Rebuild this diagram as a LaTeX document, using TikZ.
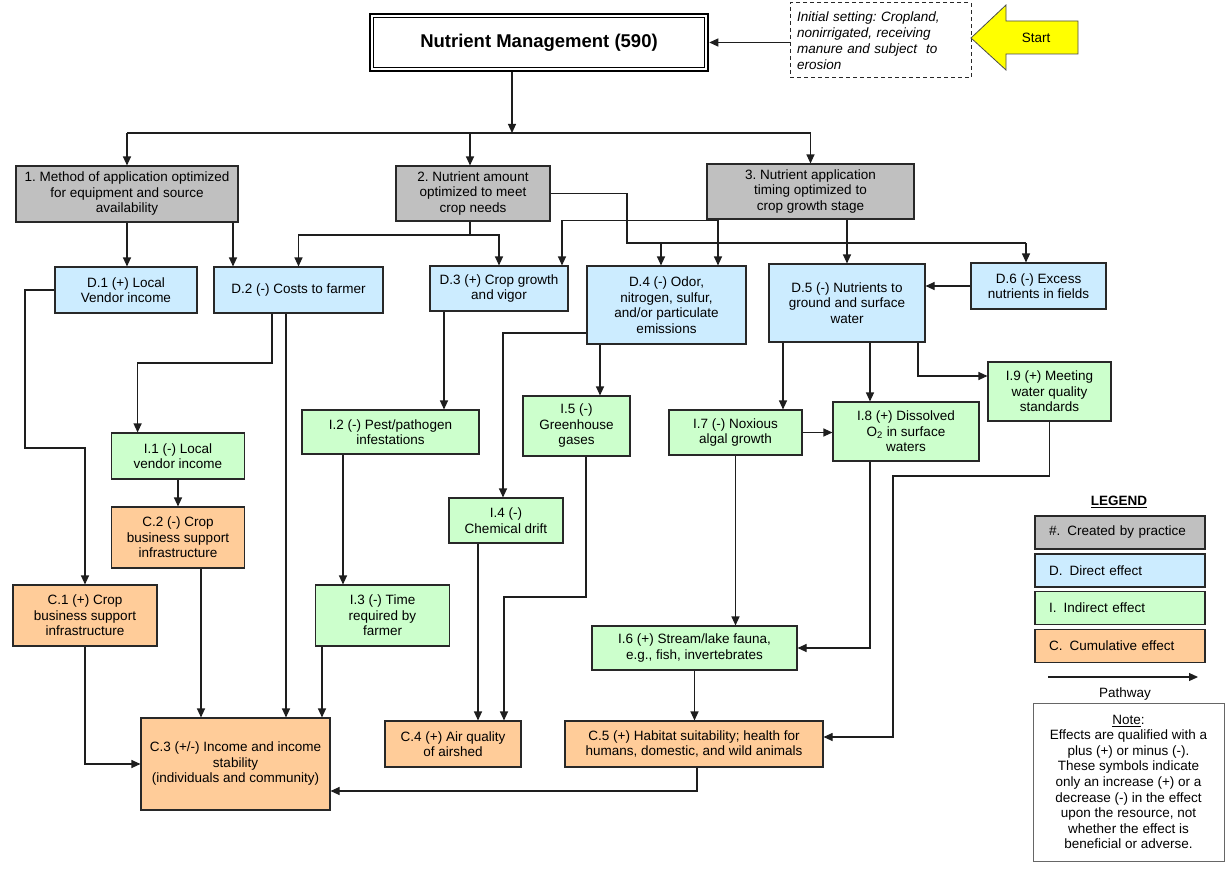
\documentclass[tikz,border=0pt]{standalone}
\usepackage{fontspec}
\setmainfont{Liberation Sans}
\usetikzlibrary{arrows.meta}
\definecolor{gfill}{RGB}{192,192,192}
\definecolor{bfill}{RGB}{204,236,255}
\definecolor{ifill}{RGB}{204,255,204}
\definecolor{cfill}{RGB}{255,204,153}
\definecolor{edgec}{RGB}{40,40,40}
\definecolor{linec}{RGB}{30,30,30}
\definecolor{startyellow}{RGB}{255,255,0}
\frenchspacing
\begin{document}
\begin{tikzpicture}[x=1pt,y=-1pt,
  txt/.style={font=\fontsize{13.5}{15.5}\selectfont},
  box/.style={txt, draw=edgec, line width=1.1pt, align=center, inner sep=2pt},
  gbox/.style={box, fill=gfill},
  dbox/.style={box, fill=bfill},
  ibox/.style={box, fill=ifill},
  cbox/.style={box, fill=cfill},
  legbox/.style={box, minimum width=170, minimum height=33, text width=142, align=left, inner xsep=14},
  ln/.style={draw=linec, line width=1.1pt},
  arr/.style={ln, -{Triangle[length=9pt,width=8pt]}},
]
\fill[white] (0,0) rectangle (1231,888);
\useasboundingbox (0,0) rectangle (1231,888);

% ---------- top ----------
\node[draw=black, line width=2.5pt, minimum width=338, minimum height=57,
      font=\fontsize{18.5}{22}\selectfont\bfseries] (title) at (539,42.5) {Nutrient Management (590)};
\draw[line width=1pt] ([shift={(4.5pt,-4.5pt)}]title.north west) rectangle ([shift={(-4.5pt,4.5pt)}]title.south east);

\node[draw=edgec, dashed, dash pattern=on 4pt off 3pt, line width=1pt, minimum width=181, minimum height=75,
      text width=167, inner xsep=7, align=left, font=\fontsize{13.5}{16}\selectfont\itshape]
      (init) at (880.5,40.5) {Initial setting: Cropland,\\nonirrigated, receiving\\manure and subject\ \ to\\erosion};

\draw[draw=black!70, line width=0.8pt, fill=startyellow]
  (971,38) -- (1006,5) -- (1006,21) -- (1078,21) -- (1078,54) -- (1006,54) -- (1006,70) -- cycle;
\node[txt] (start) at (1036,38) {Start};

% ---------- practices ----------
\node[gbox, minimum width=222, minimum height=56] (b1) at (127,194) {1. Method of application optimized\\for equipment and source\\availability};
\node[gbox, minimum width=154, minimum height=55] (b2) at (473,193.5) {2. Nutrient amount\\optimized to meet\\crop needs};
\node[gbox, minimum width=207, minimum height=55] (b3) at (810.5,191.5) {3. Nutrient application\\timing optimized to\\crop growth stage};

% ---------- direct ----------
\node[dbox, minimum width=142, minimum height=46] (d1) at (126,290) {D.1 (+) Local\\Vendor income};
\node[dbox, minimum width=169, minimum height=46] (d2) at (298.5,290) {D.2 (-) Costs to farmer};
\node[dbox, minimum width=138, minimum height=45] (d3) at (499,288.5) {D.3 (+) Crop growth\\and vigor};
\node[dbox, minimum width=159, minimum height=78] (d4) at (666.5,305) {D.4 (-) Odor,\\nitrogen, sulfur,\\and/or particulate\\emissions};
\node[dbox, minimum width=156, minimum height=78] (d5) at (847,303) {D.5 (-) Nutrients to\\ground and surface\\water};
\node[dbox, minimum width=135, minimum height=46] (d6) at (1038.5,286) {D.6 (-) Excess\\nutrients in fields};

% ---------- indirect ----------
\node[ibox, minimum width=133, minimum height=46] (i1) at (178,456) {I.1 (-) Local\\vendor income};
\node[ibox, minimum width=177, minimum height=44] (i2) at (390.5,432) {I.2 (-) Pest/pathogen\\infestations};
\node[ibox, minimum width=134, minimum height=61] (i3) at (382.5,615.5) {I.3 (-) Time\\required by\\farmer};
\node[ibox, minimum width=114, minimum height=45] (i4) at (506,520.5) {I.4 (-)\\Chemical drift};
\node[ibox, minimum width=107, minimum height=60] (i5) at (576.5,426) {I.5 (-)\\Greenhouse\\gases};
\node[ibox, minimum width=205, minimum height=44] (i6) at (694.5,648) {I.6 (+) Stream/lake fauna,\\e.g., fish, invertebrates};
\node[ibox, minimum width=133, minimum height=45] (i7) at (735.5,432.5) {I.7 (-) Noxious\\algal growth};
\node[ibox, minimum width=146, minimum height=59] (i8) at (906,431.5) {I.8 (+) Dissolved\\O\textsubscript{2} in surface\\waters};
\node[ibox, minimum width=123, minimum height=59] (i9) at (1049.5,391.5) {I.9 (+) Meeting\\water quality\\standards};

% ---------- cumulative ----------
\node[cbox, minimum width=144, minimum height=61] (c1) at (85,615.5) {C.1 (+) Crop\\business support\\infrastructure};
\node[cbox, minimum width=133, minimum height=61] (c2) at (178,537.5) {C.2 (-) Crop\\business support\\infrastructure};
\node[cbox, minimum width=189, minimum height=92] (c3) at (235.5,764) {C.3 (+/-) Income and income\\stability\\(individuals and community)};
\node[cbox, minimum width=136, minimum height=46] (c4) at (453,744) {C.4 (+) Air quality\\of airshed};
\node[cbox, minimum width=258, minimum height=46] (c5) at (694,744) {C.5 (+) Habitat suitability; health for\\humans, domestic, and wild animals};

% ---------- legend ----------
\node[txt, font=\fontsize{13.5}{15.5}\selectfont\bfseries] (leg) at (1119,502) {\underline{LEGEND}};
\node[legbox, fill=gfill] (lg1) at (1120,532.5) {\#.\hspace{7pt}Created by practice};
\node[legbox, fill=bfill] (lg2) at (1120,570.5) {D.\hspace{7pt}Direct effect};
\node[legbox, fill=ifill] (lg3) at (1120,608) {I.\hspace{7pt}Indirect effect};
\node[legbox, fill=cfill] (lg4) at (1120,646) {C.\hspace{7pt}Cumulative effect};
\coordinate (pw1) at (1048,677);
\coordinate (pw2) at (1198,677);
\draw[arr] (pw1) -- (pw2);
\node[txt] (pwl) at (1125,694) {Pathway};
\node[draw=black!60, line width=0.8pt, minimum width=191, minimum height=158, align=center,
      font=\fontsize{13.5}{15.6}\selectfont] (note) at (1128.5,782)
  {\underline{Note}:\\Effects are qualified with a\\plus (+) or minus (-).\\These symbols indicate\\only an increase (+) or a\\decrease (-) in the effect\\upon the resource, not\\whether the effect is\\beneficial or adverse.};

% ---------- connectors: top ----------
\coordinate (j0) at (512,133);
\coordinate (j2) at (470,133);
\draw[arr] (title.south -| j0) -- (j0);
\draw[ln] (j0 -| b1) -- (j0 -| b3);
\draw[arr] (j0 -| b1) -- (b1.north);
\draw[arr] (j2) -- (j2 |- b2.north);
\draw[arr] (j0 -| b3) -- (b3.north);
\draw[arr] (init.west |- title.east) -- (title.east);

% practices -> direct
\coordinate (k1) at (233,0);
\draw[arr] (b1.south) -- (b1.south |- d1.north);
\draw[arr] (k1 |- b1.south) -- (k1 |- d2.north);
\coordinate (k2) at (470,235);
\draw[ln] (k2 |- b2.south) -- (k2);
\draw[arr] (k2) -| (d2.north);
\draw[arr] (k2) -| (d3.north);
\coordinate (k3) at (627,243);
\coordinate (k4) at (661,243);
\coordinate (k6) at (1026,243);
\draw[ln] (b2.east) -| (k3) -- (k6);
\draw[arr] (k4) -- (k4 |- d4.north);
\draw[arr] (k6) -- (k6 |- d6.north);
\coordinate (k5) at (718,220.5);
\coordinate (k7) at (562,220.5);
\draw[arr] (k5 |- b3.south) -- (k5 |- d4.north);
\draw[arr] (k5) -- (k7) -- (k7 |- d3.north);
\draw[arr] (b3.south -| d5.north) -- (d5.north);
\draw[arr] (d6.west) -- (d6.west -| d5.east);

% direct -> indirect / cumulative
\coordinate (m1) at (25,448);
\draw[arr] (d1.west) -| (m1) -| (c1.north);
\coordinate (m2) at (272,363);
\coordinate (m3) at (137.6,363);
\draw[arr] (m2 |- d2.south) -- (m2) -- (m3) -- (m3 |- i1.north);
\coordinate (m4) at (286,0);
\draw[arr] (m4 |- d2.south) -- (m4 |- c3.north);
\draw[arr] (i1.south) -- (c2.north);
\coordinate (m5) at (201,0);
\draw[arr] (m5 |- c2.south) -- (m5 |- c3.north);
\coordinate (m6) at (322,0);
\draw[arr] (m6 |- i3.south) -- (m6 |- c3.north);
\draw[arr] (c1.south) |- (c3.west);
\coordinate (m7) at (444,0);
\draw[arr] (m7 |- d3.south) -- (m7 |- i2.north);
\coordinate (m8) at (343,0);
\draw[arr] (m8 |- i2.south) -- (m8 |- i3.north);
\coordinate (m9) at (503,333);
\draw[arr] (m9 -| d4.west) -- (m9) -- (m9 |- i4.north);
\coordinate (m10) at (600,0);
\draw[arr] (m10 |- d4.south) -- (m10 |- i5.north);
\coordinate (m11) at (478,0);
\draw[arr] (m11 |- i4.south) -- (m11 |- c4.north);
\coordinate (m12) at (586,597);
\coordinate (m13) at (504,597);
\draw[arr] (m12 |- i5.south) -- (m12) -- (m13) -- (m13 |- c4.north);
\coordinate (m14) at (783,0);
\draw[arr] (m14 |- d5.south) -- (m14 |- i7.north);
\coordinate (m15) at (870,0);
\draw[arr] (m15 |- d5.south) -- (m15 |- i8.north);
\coordinate (m16) at (918,376);
\draw[arr] (m16 |- d5.south) -- (m16) -- (m16 -| i9.west);
\draw[arr] (i7.east) -- (i7.east -| i8.west);
\draw[arr] (i7.south) -- (i7.south |- i6.north);
\draw[arr] (m15 |- i8.south) |- (i6.east);
\coordinate (m18) at (893,476);
\coordinate (m19) at (893,737);
\draw[arr] (i9.south) -- (i9.south |- m18) -- (m18) -- (m19) -- (m19 -| c5.east);
\draw[arr] (i6.south) -- (i6.south |- c5.north);
\coordinate (m20) at (697,791);
\draw[arr] (m20 |- c5.south) -- (m20) -- (m20 -| c3.east);
\end{tikzpicture}
\end{document}
